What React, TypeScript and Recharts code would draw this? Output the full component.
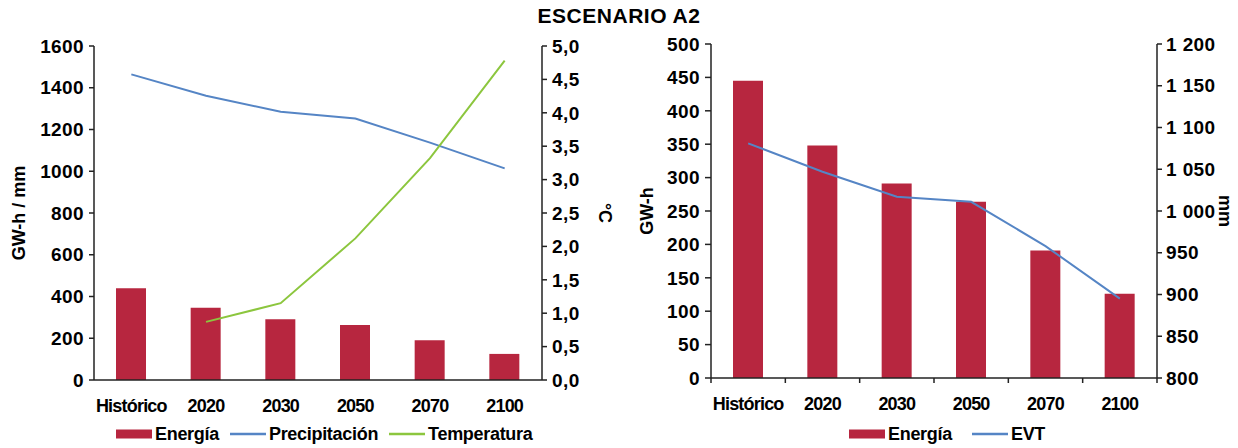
import React from 'react';
import { ComposedChart, Bar, Line, XAxis, YAxis, Legend, Label } from 'recharts';

const categories = ['Histórico', '2020', '2030', '2050', '2070', '2100'];

// left panel
const energiaA = [439, 346, 291, 263, 190, 125];
const precipitacion = [1464, 1362, 1285, 1253, 1137, 1014];
const temperatura = [null, 0.87, 1.15, 2.12, 3.32, 4.78];

// right panel
const energiaB = [445, 348, 291, 264, 191, 126];
const evt = [1081, 1047, 1017, 1011, 958, 895];

const gwhMmTicks = [0, 200, 400, 600, 800, 1000, 1200, 1400, 1600];
const tempTicks = [0, 0.5, 1, 1.5, 2, 2.5, 3, 3.5, 4, 4.5, 5];
const gwhTicks = [0, 50, 100, 150, 200, 250, 300, 350, 400, 450, 500];
const mmTicks = [800, 850, 900, 950, 1000, 1050, 1100, 1150, 1200];

const dataA = categories.map((name, i) => ({
    name,
    Energía: energiaA[i],
    Precipitación: precipitacion[i],
    Temperatura: temperatura[i]
}));

const dataB = categories.map((name, i) => ({
    name,
    Energía: energiaB[i],
    EVT: evt[i]
}));

const FONT = '"Liberation Sans", Arial, Helvetica, sans-serif';
const RED = '#b7263f';
const BLUE = '#5585c5';
const GREEN = '#8cc63e';
const AXIS = '#222';

const yTickStyle = { fill: '#000', fontSize: 19, fontWeight: 700, fontFamily: FONT, letterSpacing: 0.4 };
const xTickStyle = { fill: '#000', fontSize: 18, fontWeight: 700, fontFamily: FONT, letterSpacing: -0.8 };
const titleStyle = { textAnchor: 'middle' as const, fill: '#000', fontSize: 18, fontWeight: 700, fontFamily: FONT };

const comma = (v: number) => v.toFixed(1).replace('.', ',');
const spaced = (v: number) => (v >= 1000 ? `${Math.floor(v / 1000)} ${String(v % 1000).padStart(3, '0')}` : String(v));

const makeXTick = (step: number, dividers: boolean) => (props: any) => {
    const { x, y, payload, index, visibleTicksCount } = props;
    return (
        <g>
            {dividers && <line x1={x - step / 2} x2={x - step / 2} y1={y} y2={y + 5} stroke={AXIS} strokeWidth={1.5} />}
            {dividers && index === visibleTicksCount - 1 && (
                <line x1={x + step / 2} x2={x + step / 2} y1={y} y2={y + 5} stroke={AXIS} strokeWidth={1.5} />
            )}
            <text x={x} y={y} dy={32} textAnchor="middle" style={xTickStyle}>
                {payload.value}
            </text>
        </g>
    );
};

const makeLegend = (gap: number) => (props: any) => {
    const items = [...props.payload].sort((a: any, b: any) => (a.type === 'rect' ? -1 : 0) - (b.type === 'rect' ? -1 : 0));
    return (
        <div style={{ display: 'flex', alignItems: 'center', fontFamily: FONT, fontWeight: 700, fontSize: 18, letterSpacing: -0.3, lineHeight: '20px', color: '#000' }}>
            {items.map((entry: any) => (
                <span key={entry.value} style={{ display: 'flex', alignItems: 'center', marginRight: gap }}>
                    <svg width={36} height={10} style={{ marginRight: 3 }}>
                        {entry.type === 'rect' ? (
                            <rect x={0} y={0.5} width={36} height={9} fill={entry.color} />
                        ) : (
                            <line x1={0} x2={36} y1={5} y2={5} stroke={entry.color} strokeWidth={2.5} />
                        )}
                    </svg>
                    <span>{entry.value}</span>
                </span>
            ))}
        </div>
    );
};

const LeftPanel: React.FC = () => (
    <ComposedChart width={620} height={448} data={dataA} margin={{ top: 46, right: 0, left: 0, bottom: 0 }}>
        <XAxis dataKey="name" height={68} tickSize={0} tickMargin={0} axisLine={{ stroke: AXIS, strokeWidth: 1.5 }} tickLine={false} tick={makeXTick(447 / 6, false)} interval={0} />
        <YAxis yAxisId="l" width={94} domain={[0, 1600]} ticks={gwhMmTicks} tickSize={5} tickMargin={5} axisLine={{ stroke: AXIS, strokeWidth: 1.5 }} tickLine={{ stroke: AXIS, strokeWidth: 1.5 }} tick={yTickStyle} interval={0}>
            <Label value="GW-h / mm" angle={-90} position="insideLeft" offset={19} style={titleStyle} />
        </YAxis>
        <YAxis yAxisId="r" orientation="right" width={78} domain={[0, 5]} ticks={tempTicks} tickFormatter={comma} tickSize={5} tickMargin={5} axisLine={{ stroke: AXIS, strokeWidth: 1.5 }} tickLine={{ stroke: AXIS, strokeWidth: 1.5 }} tick={yTickStyle} interval={0}>
            <Label value="°C" angle={90} position="insideRight" offset={15} style={titleStyle} />
        </YAxis>
        <Legend verticalAlign="middle" align="center" layout="horizontal" content={makeLegend(11)} wrapperStyle={{ top: 424, left: 116, width: 480 }} />
        <Bar yAxisId="l" dataKey="Energía" fill={RED} barSize={30} legendType="rect" isAnimationActive={false} />
        <Line yAxisId="l" dataKey="Precipitación" stroke={BLUE} strokeWidth={2} dot={false} legendType="plainline" isAnimationActive={false} />
        <Line yAxisId="r" dataKey="Temperatura" stroke={GREEN} strokeWidth={2} dot={false} legendType="plainline" isAnimationActive={false} />
    </ComposedChart>
);

const RightPanel: React.FC = () => (
    <ComposedChart width={618} height={448} data={dataB} margin={{ top: 44, right: 0, left: 0, bottom: 0 }}>
        <XAxis dataKey="name" height={70} tickSize={0} tickMargin={0} axisLine={{ stroke: AXIS, strokeWidth: 1.5 }} tickLine={false} tick={makeXTick(446 / 6, true)} interval={0} />
        <YAxis yAxisId="l" width={91} domain={[0, 500]} ticks={gwhTicks} tickSize={6} tickMargin={5} axisLine={{ stroke: AXIS, strokeWidth: 1.5 }} tickLine={{ stroke: AXIS, strokeWidth: 1.5 }} tick={yTickStyle} interval={0}>
            <Label value="GW-h" angle={-90} position="insideLeft" offset={27} style={titleStyle} />
        </YAxis>
        <YAxis yAxisId="r" orientation="right" width={81} domain={[800, 1200]} ticks={mmTicks} tickFormatter={spaced} tickSize={5} tickMargin={4} axisLine={{ stroke: AXIS, strokeWidth: 1.5 }} tickLine={{ stroke: AXIS, strokeWidth: 1.5 }} tick={yTickStyle} interval={0}>
            <Label value="mm" angle={90} position="insideRight" offset={13} style={titleStyle} />
        </YAxis>
        <Legend verticalAlign="middle" align="center" layout="horizontal" content={makeLegend(20)} wrapperStyle={{ top: 424, left: 229, width: 300 }} />
        <Bar yAxisId="l" dataKey="Energía" fill={RED} barSize={30} legendType="rect" isAnimationActive={false} />
        <Line yAxisId="r" dataKey="EVT" stroke={BLUE} strokeWidth={2} dot={false} legendType="plainline" isAnimationActive={false} />
    </ComposedChart>
);

export default function App() {
    return (
        <div style={{ position: 'absolute', left: 0, top: 0, width: 1238, height: 448, background: '#fff', fontFamily: FONT }}>
            <div style={{ position: 'absolute', left: 0, top: 3, width: 1238, textAlign: 'center', fontSize: 21, fontWeight: 700, lineHeight: '26px', letterSpacing: 0.5 }}>
                ESCENARIO A2
            </div>
            <div style={{ position: 'absolute', left: 0, top: 0 }}>
                <LeftPanel />
            </div>
            <div style={{ position: 'absolute', left: 620, top: 0 }}>
                <RightPanel />
            </div>
        </div>
    );
}
